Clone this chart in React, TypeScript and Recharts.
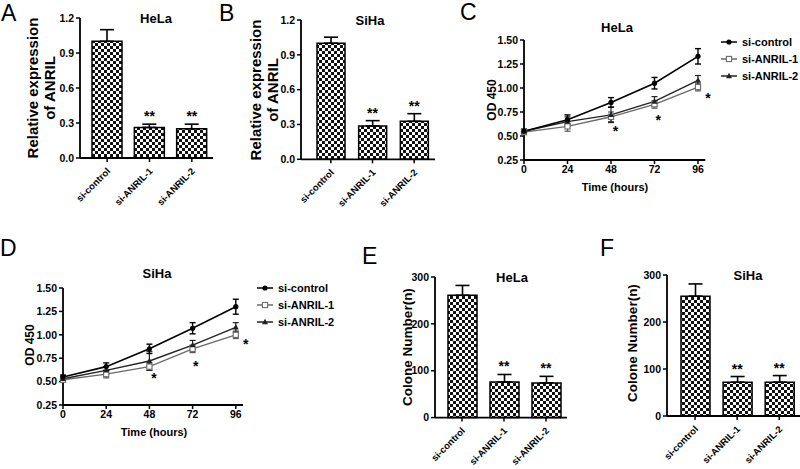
import React from 'react'
import { BarChart, Bar, LineChart, Line, XAxis, YAxis, ErrorBar, ReferenceDot } from 'recharts'

const FONT = '"Liberation Sans", Arial, sans-serif'

// bar panels (A, B, E, F)
const groups = ['si-control', 'si-ANRIL-1', 'si-ANRIL-2']
const helaExpr = [1.0, 0.262, 0.25]
const helaExprErr = [0.1, 0.028, 0.04]
const sihaExpr = [1.0, 0.287, 0.327]
const sihaExprErr = [0.052, 0.046, 0.066]
const helaColony = [261, 76, 74]
const helaColonyErr = [21, 16, 14]
const sihaColony = [255, 72, 72]
const sihaColonyErr = [26, 12, 14]

// growth curves (C, D)
const hours = [0, 24, 48, 72, 96]
const helaCtrl = [0.55, 0.67, 0.85, 1.05, 1.33]
const helaCtrlErr = [0.02, 0.05, 0.05, 0.06, 0.08]
const helaA1 = [0.54, 0.6, 0.7, 0.83, 1.01]
const helaA1Err = [0.02, 0.05, 0.05, 0.04, 0.04]
const helaA2 = [0.55, 0.65, 0.72, 0.86, 1.08]
const helaA2Err = [0.02, 0.05, 0.08, 0.05, 0.05]
const sihaCtrl = [0.55, 0.66, 0.85, 1.07, 1.3]
const sihaCtrlErr = [0.02, 0.04, 0.05, 0.06, 0.08]
const sihaA1 = [0.52, 0.58, 0.66, 0.85, 1.0]
const sihaA1Err = [0.02, 0.04, 0.04, 0.04, 0.04]
const sihaA2 = [0.53, 0.62, 0.72, 0.89, 1.08]
const sihaA2Err = [0.02, 0.04, 0.1, 0.05, 0.05]

// significance marks on the curves: [hour, OD]
const helaStars = [[50.5, 0.58], [74, 0.7], [101.5, 0.93]]
const sihaStars = [[50.5, 0.57], [73.7, 0.7], [101.5, 0.93]]

const barData = (vals: number[], errs: number[]) =>
  groups.map((g, i) => ({ name: g, value: vals[i], err: [0, errs[i]] }))

const lineData = (c: number[], ce: number[], a1: number[], a1e: number[], a2: number[], a2e: number[]) =>
  hours.map((h, i) => ({ h, c: c[i], ce: ce[i], a1: a1[i], a1e: a1e[i], a2: a2[i], a2e: a2e[i] }))

const YW = 40
const place = (l: number, t: number, r: number, b: number, xh: number) => ({
  left: l - YW - 2,
  top: t - 8,
  width: r - (l - YW - 2) + 12,
  height: b - (t - 8) + xh + 2,
})
const MARGIN = { top: 8, right: 12, bottom: 2, left: 2 }

const axisLine = { stroke: '#000', strokeWidth: 1.8 }
const tickLine = { stroke: '#000', strokeWidth: 1.5 }
const tickStyle = { fontSize: 10.5, fontWeight: 700, fill: '#000' }

const RotTick = (props: any) => {
  const { x, y, payload } = props
  return (
    <g transform={`translate(${x - 1},${y + 3})`}>
      <text x={0} y={0} dy="0.7em" textAnchor="end" transform="rotate(-45)" fontSize={9.5} fontWeight={700} fill="#000">
        {payload.value}
      </text>
    </g>
  )
}

const StarText = (props: any) => {
  const vb = props.viewBox || {}
  const cx = (vb.x || 0) + (vb.width || 0) / 2
  const cy = (vb.y || 0) + (vb.height || 0) / 2
  return (
    <text x={cx} y={cy + props.dy} textAnchor="middle" fontSize={14} fontWeight={700} fill="#000">
      {props.text}
    </text>
  )
}

const Txt = ({ x, y, size, children, bold = true, rotate = false }: any) => (
  <div
    style={{
      position: 'absolute',
      left: x,
      top: y,
      fontSize: size,
      fontWeight: bold ? 700 : 400,
      lineHeight: 1,
      whiteSpace: 'nowrap',
      transform: `translate(-50%,-50%)${rotate ? ' rotate(-90deg)' : ''}`,
    }}
  >
    {children}
  </div>
)

const Letter = ({ x, y, children }: any) => (
  <div style={{ position: 'absolute', left: x, top: y, fontSize: 23, lineHeight: 1 }}>{children}</div>
)

function BarPanel({ id, vals, errs, rect, pad, barSize, domain, ticks, fmt }: any) {
  const p = place(rect[0], rect[1], rect[2], rect[3], 60)
  const data = barData(vals, errs)
  return (
    <div style={{ position: 'absolute', left: p.left, top: p.top }}>
      <BarChart width={p.width} height={p.height} data={data} margin={MARGIN}>
        <defs>
          <pattern id={id} width={6} height={6} patternUnits="userSpaceOnUse">
            <rect width={6} height={6} fill="#fff" />
            <rect x={0} y={0} width={3} height={3} fill="#111" />
            <rect x={3} y={3} width={3} height={3} fill="#111" />
          </pattern>
        </defs>
        <XAxis
          dataKey="name"
          interval={0}
          padding={{ left: pad, right: 0 }}
          height={60}
          tick={<RotTick />}
          axisLine={axisLine}
          tickLine={tickLine}
          tickSize={4}
        />
        <YAxis
          domain={domain}
          ticks={ticks}
          interval={0}
          width={YW}
          tickFormatter={fmt}
          tick={tickStyle}
          axisLine={axisLine}
          tickLine={tickLine}
          tickSize={4}
        />
        <Bar dataKey="value" barSize={barSize} fill={`url(#${id})`} stroke="#000" strokeWidth={1.5} isAnimationActive={false}>
          <ErrorBar dataKey="err" width={7} stroke="#000" strokeWidth={1.6} direction="y" />
        </Bar>
        {data.slice(1).map((d) => (
          <ReferenceDot
            key={d.name}
            x={d.name}
            y={d.value + d.err[1]}
            r={0}
            fill="none"
            stroke="none"
            ifOverflow="visible"
            label={(lp: any) => <StarText {...lp} text="**" dy={-3} />}
          />
        ))}
      </BarChart>
    </div>
  )
}

const CircleDot = (p: any) => <circle key={p.key} cx={p.cx} cy={p.cy} r={2.6} fill="#000" />
const SquareDot = (p: any) => (
  <rect key={p.key} x={p.cx - 2.6} y={p.cy - 2.6} width={5.2} height={5.2} fill="#fff" stroke="#6a6a6a" strokeWidth={1.1} />
)
const TriDot = (p: any) => (
  <path key={p.key} d={`M${p.cx},${p.cy - 3.2} L${p.cx + 3},${p.cy + 2.2} L${p.cx - 3},${p.cy + 2.2}Z`} fill="#222" />
)

function LinePanel({ data, rect, stars }: any) {
  const p = place(rect[0], rect[1], rect[2], rect[3], 30)
  return (
    <div style={{ position: 'absolute', left: p.left, top: p.top }}>
      <LineChart width={p.width} height={p.height} data={data} margin={MARGIN}>
        <XAxis
          dataKey="h"
          type="number"
          domain={[0, 100]}
          ticks={hours}
          interval={0}
          height={30}
          tick={tickStyle}
          axisLine={axisLine}
          tickLine={tickLine}
          tickSize={4}
        />
        <YAxis
          domain={[0.25, 1.5]}
          ticks={[0.25, 0.5, 0.75, 1.0, 1.25, 1.5]}
          interval={0}
          width={YW}
          tickFormatter={(v: number) => v.toFixed(2)}
          tick={tickStyle}
          axisLine={axisLine}
          tickLine={tickLine}
          tickSize={4}
        />
        <Line dataKey="a1" stroke="#6a6a6a" strokeWidth={1.4} dot={SquareDot} activeDot={false} isAnimationActive={false}>
          <ErrorBar dataKey="a1e" width={3} stroke="#555" strokeWidth={1.2} direction="y" />
        </Line>
        <Line dataKey="a2" stroke="#222" strokeWidth={1.4} dot={TriDot} activeDot={false} isAnimationActive={false}>
          <ErrorBar dataKey="a2e" width={3} stroke="#222" strokeWidth={1.2} direction="y" />
        </Line>
        <Line dataKey="c" stroke="#000" strokeWidth={1.6} dot={CircleDot} activeDot={false} isAnimationActive={false}>
          <ErrorBar dataKey="ce" width={3} stroke="#000" strokeWidth={1.4} direction="y" />
        </Line>
        {stars.map((s: number[], i: number) => (
          <ReferenceDot
            key={i}
            x={s[0]}
            y={s[1]}
            r={0}
            fill="none"
            stroke="none"
            ifOverflow="visible"
            label={(lp: any) => <StarText {...lp} text="*" dy={8} />}
          />
        ))}
      </LineChart>
    </div>
  )
}

const legendRows = [
  { name: 'si-control', color: '#000', mark: 'circle' },
  { name: 'si-ANRIL-1', color: '#6a6a6a', mark: 'square' },
  { name: 'si-ANRIL-2', color: '#222', mark: 'tri' },
]

function LegendBox({ x, ys }: any) {
  return (
    <>
      {legendRows.map((r, i) => (
        <div key={r.name} style={{ position: 'absolute', left: x, top: ys[i] - 7, height: 14, display: 'flex', alignItems: 'center' }}>
          <svg width={16} height={10} style={{ marginRight: 5 }}>
            <line x1={0} y1={5} x2={16} y2={5} stroke={r.color} strokeWidth={1.5} />
            {r.mark === 'circle' && <circle cx={8} cy={5} r={2.6} fill="#000" />}
            {r.mark === 'square' && <rect x={5.4} y={2.4} width={5.2} height={5.2} fill="#fff" stroke={r.color} strokeWidth={1.1} />}
            {r.mark === 'tri' && <path d="M8,1.8 L11,7.2 L5,7.2Z" fill="#222" />}
          </svg>
          <span style={{ fontSize: 11, fontWeight: 700 }}>{r.name}</span>
        </div>
      ))}
    </>
  )
}

export default function App() {
  const f1 = (v: number) => v.toFixed(1)
  const f0 = (v: number) => String(v)
  return (
    <div style={{ position: 'absolute', left: 0, top: 0, width: 800, height: 469, overflow: 'hidden', background: '#fff', fontFamily: FONT, color: '#000' }}>
      {/* A */}
      <Letter x={1} y={2}>A</Letter>
      <Txt x={156} y={18} size={13}>HeLa</Txt>
      <Txt x={32} y={88} size={15} rotate>Relative expression</Txt>
      <Txt x={49} y={88} size={15} rotate>of ANRIL</Txt>
      <BarPanel id="chkA" vals={helaExpr} errs={helaExprErr} rect={[80, 18.3, 213, 158.3]} pad={6} barSize={30}
        domain={[0, 1.2]} ticks={[0, 0.3, 0.6, 0.9, 1.2]} fmt={f1} />

      {/* B */}
      <Letter x={219} y={2}>B</Letter>
      <Txt x={370} y={20} size={13}>SiHa</Txt>
      <Txt x={255} y={90} size={15} rotate>Relative expression</Txt>
      <Txt x={272} y={90} size={15} rotate>of ANRIL</Txt>
      <BarPanel id="chkB" vals={sihaExpr} errs={sihaExprErr} rect={[301, 20, 435, 159.3]} pad={9} barSize={28}
        domain={[0, 1.2]} ticks={[0, 0.3, 0.6, 0.9, 1.2]} fmt={f1} />

      {/* C */}
      <Letter x={460} y={1}>C</Letter>
      <Txt x={617} y={27} size={13}>HeLa</Txt>
      <Txt x={492} y={100} size={12} rotate>OD 450</Txt>
      <Txt x={615} y={187} size={11}>Time (hours)</Txt>
      <LinePanel data={lineData(helaCtrl, helaCtrlErr, helaA1, helaA1Err, helaA2, helaA2Err)} rect={[524, 40, 705.25, 160]} stars={helaStars} />
      <LegendBox x={721} ys={[42, 59, 76]} />

      {/* D */}
      <Letter x={0} y={237}>D</Letter>
      <Txt x={157} y={273} size={13}>SiHa</Txt>
      <Txt x={30} y={345} size={12} rotate>OD 450</Txt>
      <Txt x={154} y={432} size={11}>Time (hours)</Txt>
      <LinePanel data={lineData(sihaCtrl, sihaCtrlErr, sihaA1, sihaA1Err, sihaA2, sihaA2Err)} rect={[63, 288, 243, 405]} stars={sihaStars} />
      <LegendBox x={257} ys={[288, 305, 322]} />

      {/* E */}
      <Letter x={362} y={245}>E</Letter>
      <Txt x={512} y={277} size={13}>HeLa</Txt>
      <Txt x={408} y={347} size={13.5} rotate>Colone Number(n)</Txt>
      <BarPanel id="chkE" vals={helaColony} errs={helaColonyErr} rect={[435, 276.7, 567, 417.3]} pad={6} barSize={29}
        domain={[0, 300]} ticks={[0, 100, 200, 300]} fmt={f0} />

      {/* F */}
      <Letter x={600} y={237}>F</Letter>
      <Txt x={748} y={275} size={13}>SiHa</Txt>
      <Txt x={633} y={343} size={13.5} rotate>Colone Number(n)</Txt>
      <BarPanel id="chkF" vals={sihaColony} errs={sihaColonyErr} rect={[666.7, 275, 800, 416]} pad={7} barSize={29}
        domain={[0, 300]} ticks={[0, 100, 200, 300]} fmt={f0} />
    </div>
  )
}
